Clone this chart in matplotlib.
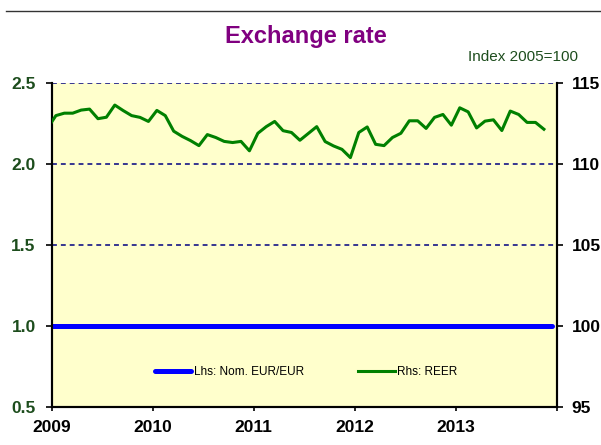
import numpy as np
import matplotlib.pyplot as plt
from matplotlib.lines import Line2D

# monthly data, Dec 2008 .. Nov 2013 (mid-month positions)
start_year = 2008 + 11.5 / 12
reer = [112.21, 112.99, 113.14, 113.14, 113.33, 113.39, 112.80, 112.89, 113.64,
        113.30, 112.99, 112.88, 112.63, 113.31, 112.99, 112.03, 111.71, 111.45,
        111.14, 111.82, 111.64, 111.40, 111.33, 111.40, 110.82, 111.90, 112.31,
        112.63, 112.06, 111.95, 111.47, 111.89, 112.31, 111.39, 111.12, 110.91,
        110.40, 111.95, 112.29, 111.22, 111.14, 111.64, 111.90, 112.67, 112.67,
        112.20, 112.88, 113.06, 112.40, 113.47, 113.22, 112.23, 112.65, 112.73,
        112.07, 113.27, 113.06, 112.57, 112.57, 112.15]
nom_eur = [1.0] * 61

years = [2009, 2010, 2011, 2012, 2013, 2014]
year_labels = ['2009', '2010', '2011', '2012', '2013', '']
left_ticks = [0.5, 1.0, 1.5, 2.0, 2.5]
right_ticks = [95, 100, 105, 110, 115]

dkgreen = '#1D4D1D'
plt.rcParams['font.family'] = ['Liberation Sans', 'DejaVu Sans']

fig = plt.figure(figsize=(6.01, 4.45), dpi=100)
ax1 = fig.add_axes([0.086, 0.0843, 0.840, 0.7292])
ax1.set_facecolor('#FFFFCC')
ax2 = ax1.twinx()

x_reer = start_year + np.arange(len(reer)) / 12
x_nom = start_year + np.arange(len(nom_eur)) / 12

ax1.plot(x_nom, nom_eur, color='#0000FF', lw=3.6, solid_capstyle='round',
         label='Lhs: Nom. EUR/EUR', zorder=3)
ax2.plot(x_reer, reer, color='#008000', lw=2.2, label='Rhs: REER', zorder=3)

ax1.set_xlim(2009, 2014)
ax1.set_ylim(0.5, 2.5)
ax2.set_ylim(95, 115)

ax1.set_yticks(left_ticks)
ax1.set_yticklabels(['%.1f' % v for v in left_ticks])
ax2.set_yticks(right_ticks)
ax1.set_xticks(years)
ax1.set_xticklabels(year_labels)

for v in [1.5, 2.0, 2.5]:
    ax1.axhline(v, color='#000080', lw=1.1, dashes=(3.2, 2.6), zorder=1)

for ax in (ax1, ax2):
    ax.spines['top'].set_visible(False)
    for s in ['left', 'right', 'bottom']:
        ax.spines[s].set_linewidth(1.5)
        ax.spines[s].set_color('black')

ax1.tick_params(axis='y', direction='out', length=4.5, width=1.2, pad=7,
                labelsize=12.5, labelcolor=dkgreen)
ax2.tick_params(axis='y', direction='out', length=4, width=1.2, pad=7,
                labelsize=12.5, labelcolor='black')
ax1.tick_params(axis='x', direction='out', length=3, width=1.2, pad=6,
                labelsize=12.5, labelcolor='black')
for lab in ax1.get_yticklabels() + ax2.get_yticklabels() + ax1.get_xticklabels():
    lab.set_fontweight('bold')

h1, l1 = ax1.get_legend_handles_labels()
h2, l2 = ax2.get_legend_handles_labels()
leg = ax2.legend(h1 + h2, l1 + l2, loc='center', bbox_to_anchor=(0.5036, 0.108),
                 ncol=2, frameon=False, fontsize=8.5, handlelength=3.1,
                 handletextpad=0.2, columnspacing=4.6)

fig.text(0.509, 0.917, 'Exchange rate', ha='center', va='center',
         fontsize=17, fontweight='bold', color='#800080')
fig.text(0.962, 0.872, 'Index 2005=100', ha='right', va='center',
         fontsize=11, color=dkgreen)
fig.add_artist(Line2D([0.01, 1.0], [1 - 11 / 445, 1 - 11 / 445],
                      transform=fig.transFigure, color='#333333', lw=1))

fig.savefig('out.png', dpi=100)
